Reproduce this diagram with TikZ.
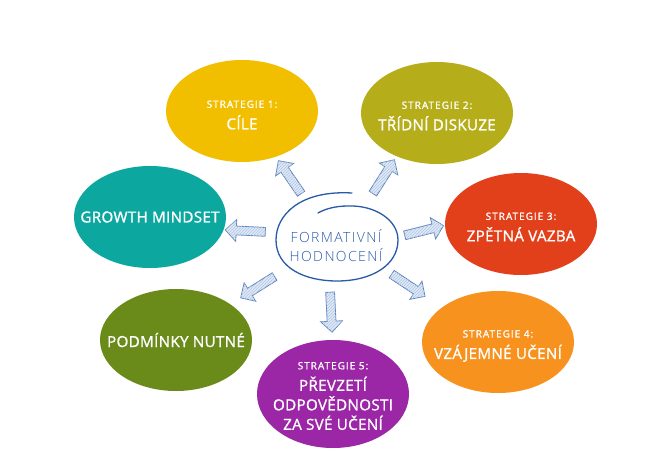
\documentclass[tikz,border=0pt]{standalone}
\usepackage{fontspec}
\setmainfont{Open Sans}
\newfontfamily\labfont[LetterSpace=2, FakeBold=1.2]{Open Sans}
\newfontfamily\subfont[LetterSpace=10, FakeBold=1.4]{Open Sans}
\newfontfamily\midfont[LetterSpace=10]{Open Sans Light}
\usetikzlibrary{shapes.geometric,shapes.arrows,patterns}

\definecolor{cyellow}{RGB}{242,190,0}
\definecolor{colive}{RGB}{181,174,26}
\definecolor{cred}{RGB}{226,64,26}
\definecolor{corange}{RGB}{247,146,30}
\definecolor{cpurple}{RGB}{155,38,166}
\definecolor{cgreen}{RGB}{106,139,26}
\definecolor{cteal}{RGB}{12,168,160}
\definecolor{cblue}{RGB}{40,90,168}
\definecolor{cpale}{RGB}{222,234,247}

\tikzset{
  strat/.style={ellipse, minimum width=152pt, minimum height=102pt, inner sep=0pt},
  lbl/.style={text=white, align=center, inner sep=0pt, font=\labfont\fontsize{15.2}{19.5}\selectfont},
  fatarrow/.style={single arrow, draw=cblue!75, line width=0.8pt, fill=cpale,
    postaction={pattern=north east lines, pattern color=cblue!35},
    minimum height=40pt, minimum width=21pt, inner sep=4pt,
    single arrow head extend=6.5pt, sloped, allow upside down},
}
\newcommand{\sub}[1]{{\subfont\fontsize{10}{14}\selectfont #1}\\[2pt]}

\begin{document}
\begin{tikzpicture}[x=1pt,y=-1pt]
  \useasboundingbox (0,0) rectangle (670,474);
  % strategies
  \node[strat, fill=cyellow] (cile) at (242,111) {};
  \node[lbl] (cile-t) at ([yshift=-4pt]cile) {\sub{STRATEGIE 1:}CÍLE};
  \node[strat, fill=colive] (diskuze) at (437,113) {};
  \node[lbl] (diskuze-t) at ([yshift=-3pt]diskuze) {\sub{STRATEGIE 2:}TŘÍDNÍ DISKUZE};
  \node[strat, fill=cred] (vazba) at (521,224) {};
  \node[lbl] (vazba-t) at ([yshift=-3pt]vazba) {\sub{STRATEGIE 3:}ZPĚTNÁ VAZBA};
  \node[strat, fill=corange] (uceni) at (498,342) {};
  \node[lbl] (uceni-t) at ([yshift=-4pt]uceni) {\sub{STRATEGIE 4:}VZÁJEMNÉ UČENÍ};
  \node[strat, fill=cpurple, minimum height=108pt] (prevzeti) at (333,394) {};
  \node[lbl] (prevzeti-t) at ([yshift=-2pt]prevzeti)
    {\sub{STRATEGIE 5:}PŘEVZETÍ\\ODPOVĚDNOSTI\\ZA SVÉ UČENÍ};
  \node[strat, fill=cgreen] (podminky) at (176,340) {};
  \node[lbl] (podminky-t) at (podminky) {PODMÍNKY NUTNÉ};
  \node[strat, fill=cteal] (growth) at (150,217) {};
  \node[lbl] (growth-t) at (growth) {GROWTH MINDSET};

  % centre
  \node[align=center, text=cblue, font=\midfont\fontsize{14}{19}\selectfont] (fh) at (336,246)
    {FORMATIVNÍ\\HODNOCENÍ};
  \draw[cblue, line width=1.3pt, line cap=round]
    (352,193) .. controls (300,190) and (276,215) .. (276,240)
    .. controls (276,268) and (305,281) .. (337,281)
    .. controls (372,281) and (398,265) .. (398,240)
    .. controls (398,220) and (375,205) .. (348,206)
    .. controls (335,206) and (325,209) .. (318,213);

  % arrows
  \coordinate (t1) at (302,195); \coordinate (h1) at (280,163);
  \coordinate (t2) at (372,195); \coordinate (h2) at (393,162);
  \coordinate (t3) at (402,236); \coordinate (h3) at (442,226);
  \coordinate (t4) at (390,273); \coordinate (h4) at (423,295);
  \coordinate (t5) at (330,290); \coordinate (h5) at (332,330);
  \coordinate (t6) at (277,275); \coordinate (h6) at (242,297);
  \coordinate (t7) at (268,232); \coordinate (h7) at (227,230);
  \foreach \i in {1,...,7}
    \path (t\i) -- node[fatarrow] (a\i) {} (h\i);
\end{tikzpicture}
\end{document}
